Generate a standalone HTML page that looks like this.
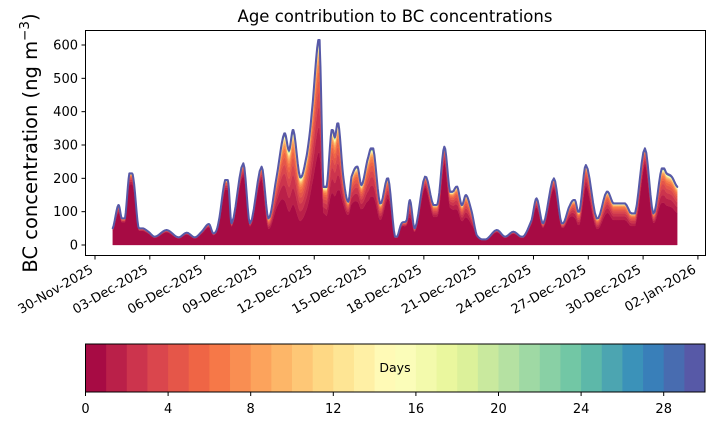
<!DOCTYPE html>
<html><head><meta charset="utf-8"><style>
body{margin:0;background:#fff;}
svg{display:block;font-family:"DejaVu Sans","Liberation Sans",sans-serif;}
</style></head><body>
<svg id="chart" width="714" height="425" viewBox="0 0 714 425">
<text x="395" y="22" font-size="16.5" text-anchor="middle">Age contribution to BC concentrations</text>
<text transform="translate(37,143) rotate(-90)" font-size="19.5" text-anchor="middle">BC concentration (ng m<tspan dy="-8" font-size="13.5">−3</tspan><tspan dy="8">)</tspan></text>
<g id="areas"></g>
<rect x="85.5" y="30.5" width="620" height="225" fill="none" stroke="#000" stroke-width="1"/>
<g id="yaxis"></g>
<g id="xaxis"></g>
<g id="cbar"></g>
</svg>
<script>
// ---- data ----
const days = [0.97,1.28,1.46,1.64,1.88,2.10,2.37,2.64,2.92,3.28,3.92,4.56,5.02,5.47,5.84,6.24,6.48,6.75,7.12,7.30,7.48,8.12,8.48,9.12,9.49,9.94,10.36,10.62,10.86,11.22,11.59,11.86,12.22,12.31,12.50,12.68,12.95,13.13,13.32,13.59,13.86,14.04,14.37,14.59,14.96,15.23,15.60,16.05,16.42,16.78,17.06,17.24,17.51,18.06,18.52,18.79,19.12,19.43,19.83,20.07,20.31,20.62,20.89,21.40,21.98,22.44,22.90,23.44,23.90,24.17,24.54,25.12,25.54,26.00,26.27,26.51,26.87,27.46,28.01,28.37,29.01,29.56,30.10,30.56,31.02,31.29,31.57,31.87];
const totals = [50,120,80,80,215,200,55,50,40,25,45,23,37,23,40,63,35,65,195,185,65,245,65,235,80,205,335,285,345,205,270,395,615,585,175,175,345,325,365,205,130,205,235,180,265,290,125,200,25,65,75,135,50,205,120,135,295,160,175,120,150,100,30,17,45,25,40,25,75,140,65,200,65,120,135,100,240,80,160,125,125,95,290,95,230,215,205,175];
const freshFrac = [0.85,0.8,0.85,0.85,0.85,0.85,0.85,0.85,0.85,0.85,0.85,0.85,0.85,0.85,0.85,0.85,0.85,0.85,0.85,0.85,0.85,0.85,0.85,0.85,0.6,0.55,0.4,0.35,0.35,0.35,0.4,0.45,0.45,0.45,0.55,0.5,0.45,0.45,0.45,0.6,0.7,0.6,0.55,0.6,0.5,0.5,0.6,0.7,0.85,0.85,0.8,0.6,0.8,0.85,0.7,0.7,0.85,0.7,0.6,0.6,0.55,0.6,0.85,0.85,0.85,0.85,0.85,0.85,0.85,0.8,0.8,0.85,0.8,0.7,0.6,0.6,0.75,0.6,0.6,0.6,0.6,0.6,0.85,0.7,0.55,0.55,0.55,0.55];
const ageWeights = [0.25,0.2,0.15,0.12,0.09,0.07,0.05,0.035,0.025,0.02,0.015,0.012,0.01,0.008,0.007,0.006,0.005,0.005,0.004,0.004,0.004,0.004,0.004,0.004,0.004,0.004,0.005,0.006,0.012];
const yTicks = [0,100,200,300,400,500,600];
const xTickLabels = ["30-Nov-2025","03-Dec-2025","06-Dec-2025","09-Dec-2025","12-Dec-2025","15-Dec-2025","18-Dec-2025","21-Dec-2025","24-Dec-2025","27-Dec-2025","30-Dec-2025","02-Jan-2026"];
const cbTicks = [0,4,8,12,16,20,24,28];
// ---- scales ----
const NS="http://www.w3.org/2000/svg";
const xS = d => 95 + d*18.27;
const yS = v => 245 - v/3;
const stops=["#9e0142","#d53e4f","#f46d43","#fdae61","#fee08b","#ffffbf","#e6f598","#abdda4","#66c2a5","#3288bd","#5e4fa2"];
function hex(h){return [1,3,5].map(i=>parseInt(h.substr(i,2),16));}
function spectral(t){const p=t*10,i=Math.min(9,Math.floor(p)),f=p-i;const a=hex(stops[i]),b=hex(stops[i+1]);return "rgb("+a.map((c,j)=>Math.round(c+(b[j]-c)*f)).join(",")+")";}
function mk(tag,attrs,parent){const e=document.createElementNS(NS,tag);for(const k in attrs)e.setAttribute(k,attrs[k]);parent.appendChild(e);return e;}
// ---- smooth resampling (clamped Catmull-Rom) ----
const dD=[],dT=[],dF=[];
const n=days.length;
for(let i=0;i<n-1;i++){
  const p0=totals[Math.max(0,i-1)],p1=totals[i],p2=totals[i+1],p3=totals[Math.min(n-1,i+2)];
  const hi=Math.max(p1,p2),lo=Math.min(p1,p2);
  for(let s=0;s<6;s++){
    const t=s/6;
    let v=0.5*((2*p1)+(-p0+p2)*t+(2*p0-5*p1+4*p2-p3)*t*t+(-p0+3*p1-3*p2+p3)*t*t*t);
    v=Math.min(hi,Math.max(lo,v));
    dD.push(days[i]+(days[i+1]-days[i])*t);
    dT.push(v);
    dF.push(freshFrac[i]+(freshFrac[i+1]-freshFrac[i])*t);
  }
}
dD.push(days[n-1]);dT.push(totals[n-1]);dF.push(freshFrac[n-1]);
// ---- stacked areas ----
const wsum = ageWeights.reduce((a,b)=>a+b,0);
const areas=document.getElementById('areas');
let base = dD.map(()=>0);
for(let k=0;k<30;k++){
  const top = dD.map((d,i)=>{const v = k===0 ? dT[i]*dF[i] : dT[i]*(1-dF[i])*ageWeights[k-1]/wsum; return base[i]+v;});
  let p="M"+dD.map((d,i)=>xS(d).toFixed(2)+","+yS(top[i]).toFixed(2)).join("L");
  for(let i=dD.length-1;i>=0;i--)p+="L"+xS(dD[i]).toFixed(2)+","+yS(base[i]).toFixed(2);
  p+="Z";
  const el=mk('path',{d:p,fill:spectral((k+0.5)/30),stroke:spectral((k+0.5)/30),'stroke-width':k===29?2:0.3,'stroke-linejoin':'round'},areas);
  
  
  base=top;
}
// ---- y axis ----
const ya=document.getElementById('yaxis');
yTicks.forEach(v=>{
  const y=yS(v);
  mk('line',{x1:81.5,x2:85.5,y1:y,y2:y,stroke:'#000'},ya);
  const t=mk('text',{x:78,y:y+4.5,'font-size':13,'text-anchor':'end'},ya);t.textContent=v;
  
  
});
// ---- x axis ----
const xa=document.getElementById('xaxis');
xTickLabels.forEach((lab,i)=>{
  const x=xS(i*3);
  mk('line',{x1:x,x2:x,y1:255.5,y2:259.5,stroke:'#000'},xa);
  const t=mk('text',{transform:`translate(${x-1},${272}) rotate(-30)`,'font-size':13,'text-anchor':'end'},xa);t.textContent=lab;
  
  
});
// ---- colorbar ----
const cb=document.getElementById('cbar');
const cx=d=>85.5+d*(619.5/30);
for(let k=0;k<30;k++){
  const r=mk('rect',{x:cx(k),y:344,width:619.5/30+0.4,height:48,fill:spectral((k+0.5)/30)},cb);
  
  
}
mk('rect',{x:85.5,y:344,width:619.5,height:48,fill:'none',stroke:'#000'},cb);
const dl=mk('text',{x:395,y:372,'font-size':12.5,'text-anchor':'middle'},cb);dl.textContent='Days';


cbTicks.forEach(v=>{
  const x=cx(v);
  mk('line',{x1:x,x2:x,y1:392,y2:396,stroke:'#000'},cb);
  const t=mk('text',{x:x,y:413,'font-size':13,'text-anchor':'middle'},cb);t.textContent=v;
  
  
});
</script>
</body></html>
